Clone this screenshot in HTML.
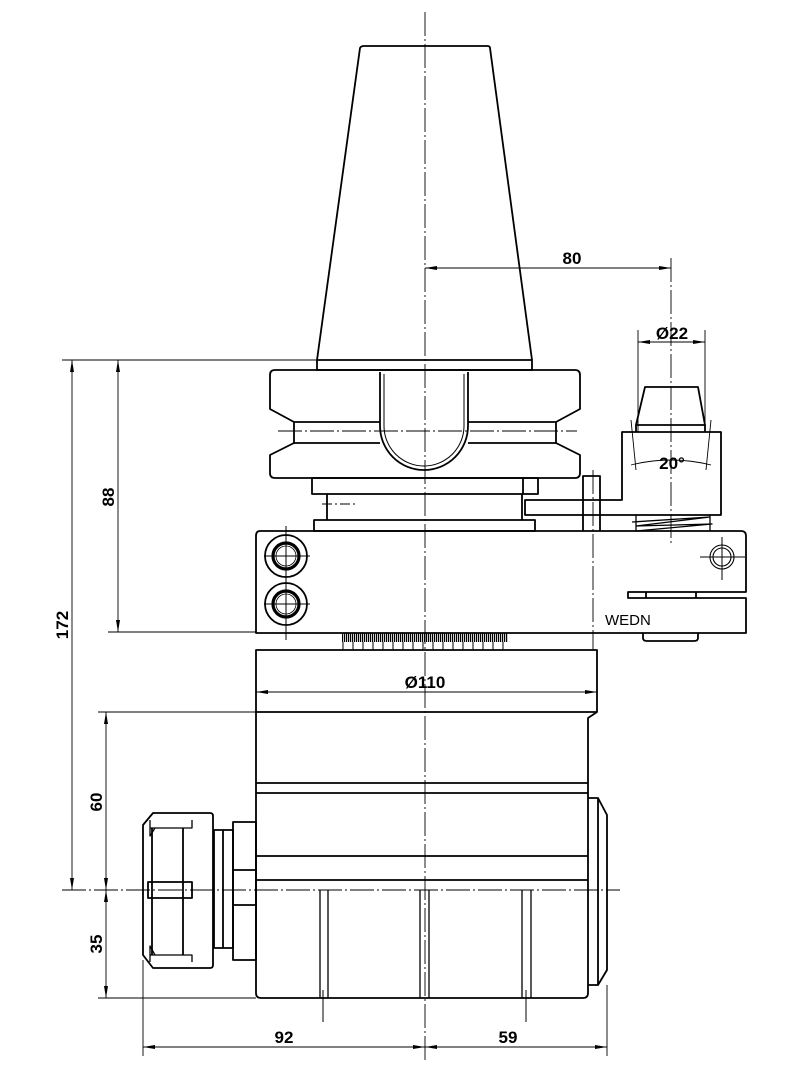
<!DOCTYPE html>
<html><head><style>html,body{margin:0;padding:0;background:#fff}svg{display:block}text{font-family:"Liberation Sans Narrow","Liberation Sans",sans-serif;font-weight:bold;fill:#000}</style></head>
<body>
<svg width="800" height="1080" viewBox="0 0 800 1080" xmlns="http://www.w3.org/2000/svg">
<defs>
<marker id="a" viewBox="0 0 12 4" refX="12" refY="2" markerWidth="12" markerHeight="4" orient="auto-start-reverse" markerUnits="userSpaceOnUse"><path d="M0,0L12,2L0,4z" fill="#000"/></marker>
<pattern id="ser" width="2" height="10" patternUnits="userSpaceOnUse"><rect width="1.2" height="10" fill="#000"/></pattern>
</defs>
<g fill="none" stroke="#000" stroke-width="0.9">
<line x1="425" y1="12" x2="425" y2="1060" stroke-dasharray="24,3,2,3"/>
<line x1="62" y1="890" x2="620" y2="890" stroke-dasharray="24,3,2,3"/>
<line x1="671" y1="258" x2="671" y2="545" stroke-dasharray="24,3,2,3"/>
<line x1="593" y1="470" x2="593" y2="650" stroke-dasharray="24,3,2,3"/>
<line x1="278" y1="431" x2="577" y2="431" stroke-dasharray="24,3,2,3"/>
<line x1="322" y1="504" x2="358" y2="504" stroke-dasharray="10,3,2,3"/>
<line x1="62" y1="360" x2="317" y2="360"/>
<line x1="108" y1="632" x2="256" y2="632"/>
<line x1="98" y1="712" x2="256" y2="712"/>
<line x1="98" y1="998" x2="256" y2="998"/>
<line x1="143" y1="960" x2="143" y2="1056"/>
<line x1="607" y1="985" x2="607" y2="1056"/>
<line x1="638" y1="330" x2="638" y2="432"/>
<line x1="705" y1="330" x2="705" y2="432"/>
<line x1="72" y1="360" x2="72" y2="890" marker-start="url(#a)" marker-end="url(#a)"/>
<line x1="118" y1="360" x2="118" y2="632" marker-start="url(#a)" marker-end="url(#a)"/>
<line x1="106" y1="712" x2="106" y2="890" marker-start="url(#a)" marker-end="url(#a)"/>
<line x1="106" y1="890" x2="106" y2="998" marker-start="url(#a)" marker-end="url(#a)"/>
<line x1="143" y1="1047" x2="425" y2="1047" marker-start="url(#a)" marker-end="url(#a)"/>
<line x1="425" y1="1047" x2="607" y2="1047" marker-start="url(#a)" marker-end="url(#a)"/>
<line x1="425" y1="268" x2="671" y2="268" marker-end="url(#a)"/>
<line x1="425" y1="268" x2="440" y2="268" marker-start="url(#a)"/>
<line x1="638" y1="342" x2="705" y2="342" marker-start="url(#a)" marker-end="url(#a)"/>
<line x1="256" y1="692" x2="597" y2="692" marker-start="url(#a)" marker-end="url(#a)"/>
<path d="M631,465 Q671,455 711,465"/>
<line x1="631" y1="420" x2="636" y2="470"/><line x1="711" y1="420" x2="706" y2="470"/>
</g>
<g fill="none" stroke="#000" stroke-width="1.8" stroke-linejoin="round">
<path d="M317,360 L360,48 Q361,46 364,46 L487,46 Q490,46 490,48 L532,360"/>
<rect x="317" y="360" width="215" height="10"/>
<path d="M275,370 L575,370 Q580,370 580,375 L580,409 L556,422 L556,443 L580,455 L580,473 Q580,478 575,478 L275,478 Q270,478 270,473 L270,455 L294,443 L294,422 L270,409 L270,375 Q270,370 275,370Z"/>
<line x1="294" y1="422" x2="380" y2="422"/><line x1="294" y1="443" x2="380" y2="443"/>
<line x1="468" y1="422" x2="556" y2="422"/><line x1="468" y1="443" x2="556" y2="443"/>
<path d="M380,372 L380,426 A44,44 0 0 0 468,426 L468,372"/>
<path d="M384,374 L384,426 A40,40 0 0 0 464,426 L464,374" stroke-width="1"/>
<rect x="312" y="478" width="226" height="16"/>
<line x1="523" y1="478" x2="523" y2="494"/>
<line x1="327" y1="494" x2="327" y2="520"/><line x1="522" y1="494" x2="522" y2="520"/>
<rect x="314" y="520" width="221" height="11"/>
<path d="M583,531 L583,476 L600,476 L600,531"/>
<path d="M525,500 L622,500 L622,432 L721,432 L721,515 L525,515Z"/>
<path d="M636,425 L645,387 L698,387 L705,425Z"/>
<line x1="636" y1="425" x2="636" y2="432"/><line x1="705" y1="425" x2="705" y2="432"/>
<path d="M636,531 L636,515 M710,531 L710,515 M632,522 L710,517 L636,526 L712,524 L636,531" stroke-width="1.3"/>
<path d="M260,531 L741,531 Q746,531 746,536 L746,592 L628,592 L628,598 L746,598 L746,633 L256,633 L256,536 Q256,531 260,531Z"/>
<line x1="646" y1="592" x2="646" y2="598"/><line x1="696" y1="592" x2="696" y2="598"/>
<path d="M643,633 L643,638 Q643,641 647,641 L694,641 Q698,641 698,638 L698,633"/>
<circle cx="286" cy="556" r="21"/><circle cx="286" cy="556" r="13" stroke-width="3.2"/><circle cx="286" cy="556" r="10" stroke-width="0.8"/>
<circle cx="286" cy="604" r="21"/><circle cx="286" cy="604" r="13" stroke-width="3.2"/><circle cx="286" cy="604" r="10" stroke-width="0.8"/>
<circle cx="722" cy="557" r="12" stroke-width="1.1"/><circle cx="722" cy="557" r="9" stroke-width="1.1"/>
<path d="M256,650 L597,650 L597,712 L588,718 L588,993 Q588,998 583,998 L261,998 Q256,998 256,993Z"/>
<line x1="256" y1="712" x2="597" y2="712"/>
<line x1="256" y1="783" x2="588" y2="783"/><line x1="256" y1="793" x2="588" y2="793"/>
<line x1="256" y1="856" x2="588" y2="856"/><line x1="256" y1="880" x2="588" y2="880"/>
<path d="M320,890 L320,998 M328,890 L328,998 M420,890 L420,998 M429,890 L429,998 M522,890 L522,998 M531,890 L531,998" stroke-width="1.3"/>
<path d="M588,798 L598,798 L607,815 L607,970 L598,985 L588,985"/>
<line x1="598" y1="798" x2="598" y2="985"/>
<rect x="233" y="822" width="23" height="138"/>
<line x1="233" y1="870" x2="256" y2="870"/><line x1="233" y1="905" x2="256" y2="905"/>
<rect x="214" y="830" width="19" height="118"/><line x1="223" y1="830" x2="223" y2="948"/>
<path d="M153,813 L210,813 Q213,813 213,816 L213,965 Q213,968 210,968 L153,968 L143,955 L143,825Z"/>
<line x1="152" y1="828" x2="152" y2="955"/><line x1="183" y1="828" x2="183" y2="955"/>
<path d="M150,828 L192,828 L192,820 M150,820 L150,836 L155,828" stroke-width="1.3"/>
<path d="M150,955 L192,955 L192,962 M150,962 L150,946 L155,955" stroke-width="1.3"/>
<rect x="148" y="882" width="44" height="16"/>
</g>
<rect x="342" y="633" width="166" height="9" fill="url(#ser)"/>
<g stroke="#000" stroke-width="1">
<path d="M343,642 V650 M353,642 V650 M363,642 V650 M373,642 V650 M383,642 V650 M393,642 V650 M403,642 V650 M413,642 V650 M423,642 V650 M433,642 V650 M443,642 V650 M453,642 V650 M463,642 V650 M473,642 V650 M483,642 V650 M493,642 V650 M503,642 V650"/>
<line x1="264" y1="556" x2="310" y2="556"/><line x1="286" y1="526" x2="286" y2="640"/>
<line x1="264" y1="604" x2="310" y2="604"/>
<line x1="700" y1="557" x2="745" y2="557"/><line x1="722" y1="537" x2="722" y2="580"/>
<line x1="323" y1="990" x2="323" y2="1022"/><line x1="526" y1="990" x2="526" y2="1022"/>
</g>
<g font-size="17">
<text x="572" y="264" text-anchor="middle">80</text>
<text x="672" y="339" text-anchor="middle">Ø22</text>
<text x="672" y="469" text-anchor="middle">20°</text>
<text x="425" y="688" text-anchor="middle">Ø110</text>
<text x="284" y="1043" text-anchor="middle">92</text>
<text x="508" y="1043" text-anchor="middle">59</text>
<text transform="translate(68,625) rotate(-90)" text-anchor="middle">172</text>
<text transform="translate(114,497) rotate(-90)" text-anchor="middle">88</text>
<text transform="translate(102,802) rotate(-90)" text-anchor="middle">60</text>
<text transform="translate(102,944) rotate(-90)" text-anchor="middle">35</text>
</g>
<text x="605" y="625" font-size="15" style="font-family:'Liberation Sans',sans-serif;font-weight:normal">WEDN</text>
</svg>
</body></html>
